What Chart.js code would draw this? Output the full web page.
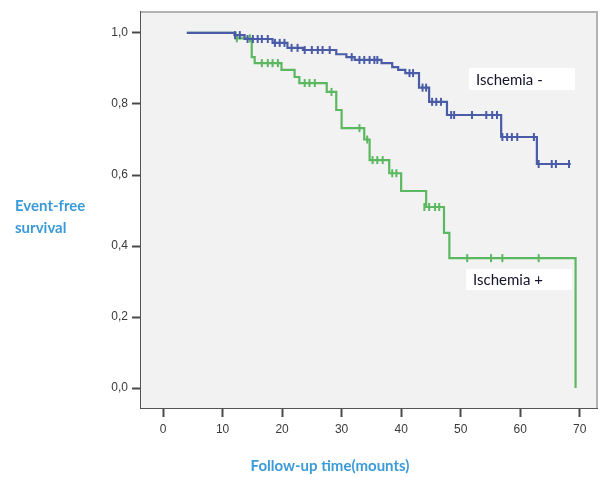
<!DOCTYPE html>
<html><head><meta charset="utf-8">
<script src="https://cdn.jsdelivr.net/npm/chart.js@4.4.0/dist/chart.umd.min.js"></script>
<style>html,body{margin:0;padding:0;background:#fff;} #wrap{width:603px;height:477px;position:relative;}</style>
</head><body><div id="wrap"><canvas id="c" width="603" height="477"></canvas></div>
<script>
// ---- data ----
const seriesNames = ['Ischemia +', 'Ischemia -'];
const xTicks = [0, 10, 20, 30, 40, 50, 60, 70];
const yTicks = [0, 0.2, 0.4, 0.6, 0.8, 1.0];
const yTickLabels = ['0,0', '0,2', '0,4', '0,6', '0,8', '1,0'];
const xAxisTitle = 'Follow-up time(mounts)';
const yAxisTitle = ['Event-free', 'survival'];

// Ischemia + (green) step curve: time of each step, survival after the step
const greenTimes = [4, 12.2, 14.9, 15.4, 19.9, 22.1, 22.9, 27.5, 29.1, 30.0, 33.8, 34.7, 38.0, 40.0, 44.2, 47.2, 48.1, 69.3];
const greenSurv  = [1.0, 0.985, 0.932, 0.915, 0.896, 0.876, 0.859, 0.834, 0.783, 0.732, 0.700, 0.642, 0.605, 0.555, 0.510, 0.437, 0.366, 0.0];
const greenCensorTimes = [12.4, 14.6, 16.6, 17.6, 18.4, 19.3, 23.8, 24.6, 25.5, 28.3, 33.0, 34.3, 35.2, 36.0, 36.9, 38.5, 39.2, 43.9, 44.7, 45.7, 46.4, 51.1, 55.1, 57.0, 63.1];
const greenCensorSurv  = [0.985, 0.985, 0.915, 0.915, 0.915, 0.915, 0.859, 0.859, 0.859, 0.834, 0.732, 0.700, 0.642, 0.642, 0.642, 0.605, 0.605, 0.510, 0.510, 0.510, 0.510, 0.366, 0.366, 0.366, 0.366];

// Ischemia - (blue) step curve
const blueTimes = [4, 12.0, 13.7, 18.4, 20.9, 23.5, 29.1, 30.8, 32.2, 36.7, 38.5, 39.5, 40.7, 43.0, 44.7, 47.7, 56.8, 62.8, 68.5];
const blueSurv  = [1.0, 0.994, 0.983, 0.972, 0.958, 0.952, 0.940, 0.932, 0.924, 0.915, 0.904, 0.896, 0.887, 0.846, 0.806, 0.769, 0.707, 0.631, 0.631];
const blueCensorTimes = [12.1, 12.9, 14.2, 15.1, 15.9, 16.6, 17.6, 18.8, 19.6, 20.4, 21.6, 22.6, 23.8, 25.0, 26.0, 26.8, 28.0, 31.7, 33.0, 33.8, 34.7, 35.5, 36.0, 41.4, 42.0, 43.6, 44.2, 45.2, 45.9, 46.7, 48.4, 48.9, 51.9, 54.3, 55.3, 56.1, 57.0, 57.8, 58.6, 59.5, 62.3, 63.1, 65.3, 66.0, 68.2];
const blueCensorSurv  = [0.994, 0.994, 0.983, 0.983, 0.983, 0.983, 0.983, 0.972, 0.972, 0.972, 0.958, 0.958, 0.952, 0.952, 0.952, 0.952, 0.952, 0.932, 0.924, 0.924, 0.924, 0.924, 0.924, 0.887, 0.887, 0.846, 0.846, 0.806, 0.806, 0.806, 0.769, 0.769, 0.769, 0.769, 0.769, 0.769, 0.707, 0.707, 0.707, 0.707, 0.707, 0.631, 0.631, 0.631, 0.631];

// ---- styling / layout ----
const GREEN = '#5cb860';
const BLUE = '#4a5ca8';
const labelBoxes = [
  {text: seriesNames[1], x1: 51.4, y1: 0.901, x2: 69.2, y2: 0.839},
  {text: seriesNames[0], x1: 50.9, y1: 0.335, x2: 68.7, y2: 0.276}
];

const pts = (xs, ys) => xs.map((x, i) => ({x: x, y: ys[i]}));

const deco = {
  id: 'deco',
  beforeDatasetsDraw(chart) {
    const {ctx, chartArea: a} = chart;
    ctx.save();
    ctx.fillStyle = '#f2f2f2';
    ctx.fillRect(a.left, a.top, a.right - a.left, a.bottom - a.top);
    ctx.strokeStyle = '#b4b4b4';
    ctx.lineWidth = 2;
    ctx.beginPath();
    ctx.moveTo(a.left, a.top); ctx.lineTo(a.right, a.top); ctx.lineTo(a.right, a.bottom);
    ctx.stroke();
    ctx.restore();
  },
  afterDatasetsDraw(chart) {
    const {ctx} = chart;
    const xs = chart.scales.x, ys = chart.scales.y;
    ctx.save();
    labelBoxes.forEach(b => {
      const l = xs.getPixelForValue(b.x1), r = xs.getPixelForValue(b.x2);
      const t = ys.getPixelForValue(b.y1), btm = ys.getPixelForValue(b.y2);
      ctx.fillStyle = '#ffffff';
      ctx.fillRect(l, t, r - l, btm - t);
      ctx.fillStyle = '#14142a';
      ctx.font = '15px Lato';
      ctx.textBaseline = 'middle';
      ctx.textAlign = 'left';
      ctx.fillText(b.text, l + 7, (t + btm) / 2 + 1);
    });
    ctx.restore();
  },
  afterDraw(chart) {
    const {ctx} = chart;
    ctx.save();
    ctx.fillStyle = '#3a9bd8';
    ctx.font = 'bold 15px Lato';
    ctx.textBaseline = 'middle';
    ctx.textAlign = 'left';
    ctx.fillText(yAxisTitle[0], 15, 206);
    ctx.fillText(yAxisTitle[1], 15, 228);
    ctx.textAlign = 'center';
    ctx.fillText(xAxisTitle, 330, 466);
    ctx.restore();
  }
};

new Chart(document.getElementById('c'), {
  type: 'line',
  data: {
    datasets: [
      {label: seriesNames[0], data: pts(greenTimes, greenSurv), borderColor: GREEN, borderWidth: 2.2, stepped: 'before', pointRadius: 0, fill: false, order: 4},
      {label: seriesNames[0] + ' censored', type: 'scatter', data: pts(greenCensorTimes, greenCensorSurv), showLine: false, pointStyle: 'line', rotation: 90, radius: 4, borderColor: GREEN, borderWidth: 2, order: 3},
      {label: seriesNames[1], data: pts(blueTimes, blueSurv), borderColor: BLUE, borderWidth: 2.2, stepped: 'before', pointRadius: 0, fill: false, order: 2},
      {label: seriesNames[1] + ' censored', type: 'scatter', data: pts(blueCensorTimes, blueCensorSurv), showLine: false, pointStyle: 'line', rotation: 90, radius: 4, borderColor: BLUE, borderWidth: 2, order: 1}
    ]
  },
  options: {
    responsive: false,
    animation: false,
    layout: {padding: {left: 0, right: 5, top: 12, bottom: 0}},
    plugins: {legend: {display: false}, tooltip: {enabled: false}},
    scales: {
      x: {
        type: 'linear', min: -3.7, max: 72.9,
        afterBuildTicks: s => { s.ticks = xTicks.map(v => ({value: v})); },
        afterFit: s => { s.height = 69; },
        ticks: {color: '#3a3a3a', font: {family: 'Liberation Sans', size: 12}, padding: 5, callback: v => String(v), maxRotation: 0},
        grid: {drawOnChartArea: false, drawTicks: true, tickLength: 9, tickColor: '#4a4a4a', tickWidth: 2},
        border: {display: true, color: '#555555', width: 2}
      },
      y: {
        type: 'linear', min: -0.056, max: 1.059,
        afterBuildTicks: s => { s.ticks = yTicks.map(v => ({value: v})); },
        afterFit: s => { s.width = 141; },
        ticks: {color: '#3a3a3a', font: {family: 'Liberation Sans', size: 12}, padding: 4, callback: (v, i) => yTickLabels[i]},
        grid: {drawOnChartArea: false, drawTicks: true, tickLength: 9, tickColor: '#4a4a4a', tickWidth: 2},
        border: {display: true, color: '#555555', width: 2}
      }
    }
  },
  plugins: [deco]
});
</script>
</body></html>
